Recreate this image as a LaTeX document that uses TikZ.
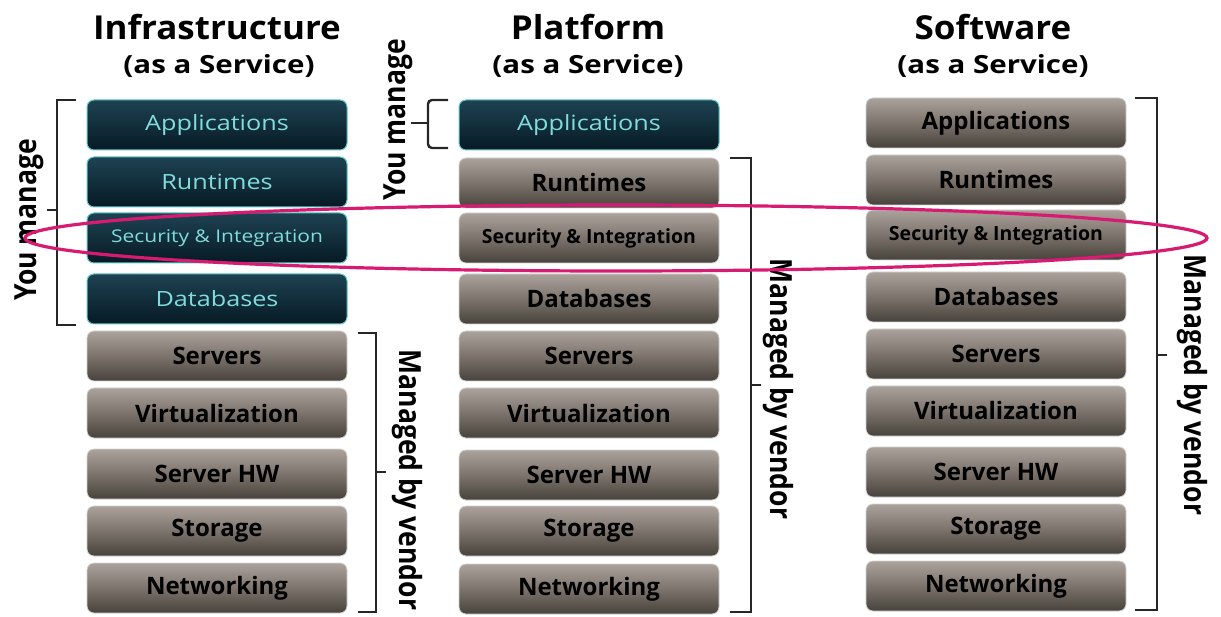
\documentclass[tikz,border=0pt]{standalone}
\usepackage{fontspec}
\setmainfont{Open Sans}
\definecolor{gtop}{HTML}{ABA39B}
\definecolor{gmid}{HTML}{7C746C}
\definecolor{gbot}{HTML}{48423C}
\definecolor{dtop}{HTML}{1E4252}
\definecolor{dbot}{HTML}{061A24}
\definecolor{dedge}{HTML}{5FC8C8}
\definecolor{dtext}{HTML}{80DCDC}
\definecolor{loopcol}{HTML}{D81B72}
\newcommand{\tall}[1]{\scalebox{1}[1.15]{#1}}
\newcommand{\xs}[2]{\scalebox{#1}[1]{#2}}
\begin{document}
\begin{tikzpicture}[x=1pt,y=-1pt,
  layer/.style={rectangle,rounded corners=7pt,minimum width=260pt,minimum height=50pt,inner sep=0pt},
  gbox/.style={layer,top color=gtop,bottom color=gbot,middle color=gmid,draw=gray!35,line width=0.8pt,text=black,font=\bfseries\fontsize{24}{24}\selectfont},
  gsmall/.style={gbox,font=\bfseries\fontsize{19.5}{19.5}\selectfont},
  dbox/.style={layer,top color=dtop,bottom color=dbot,draw=dedge,line width=1pt,text=dtext,font=\fontsize{21}{21}\selectfont},
  dsmall/.style={dbox,font=\fontsize{17.5}{17.5}\selectfont},
  title/.style={font=\bfseries\fontsize{33}{33}\selectfont},
  subtitle/.style={font=\bfseries\fontsize{25}{25}\selectfont},
  brk/.style={draw=black!85,line width=2.4pt},
  side/.style={font=\bfseries\fontsize{26.5}{26.5}\selectfont}]
\useasboundingbox (0,0) rectangle (1221,617);

% titles
\node[title] (t1) at (217,27) {\xs{1.06}{Infrastructure}};
\node[subtitle] (s1) at (219,66) {\xs{1.18}{(as a Service)}};
\node[title] (t2) at (588,27) {\xs{1.06}{Platform}};
\node[subtitle] (s2) at (588,66) {\xs{1.18}{(as a Service)}};
\node[title] (t3) at (993,27) {\xs{1.06}{Software}};
\node[subtitle] (s3) at (993,66) {\xs{1.18}{(as a Service)}};

% column 1 (IaaS)
\node[dbox]   (a1) at (217,125) {\xs{1.2}{Applications}};
\node[dbox]   (b1) at (217,182) {\xs{1.2}{Runtimes}};
\node[dsmall] (c1) at (217,238) {\xs{1.2}{Security \& Integration}};
\node[dbox]   (d1) at (217,299) {\xs{1.2}{Databases}};
\node[gbox]   (e1) at (217,356) {Servers};
\node[gbox]   (f1) at (217,413) {Virtualization};
\node[gbox]   (g1) at (217,474) {Server HW};
\node[gbox]   (h1) at (217,531) {Storage};
\node[gbox]   (i1) at (217,588) {Networking};

% column 2 (PaaS)
\node[dbox]   (a2) at (589,125) {\xs{1.2}{Applications}};
\node[gbox]   (b2) at (589,183) {Runtimes};
\node[gsmall] (c2) at (589,238) {Security \& Integration};
\node[gbox]   (d2) at (589,299) {Databases};
\node[gbox]   (e2) at (589,356) {Servers};
\node[gbox]   (f2) at (589,413) {Virtualization};
\node[gbox]   (g2) at (589,475) {Server HW};
\node[gbox]   (h2) at (589,531) {Storage};
\node[gbox]   (i2) at (589,589) {Networking};

% column 3 (SaaS)
\node[gbox]   (a3) at (996,123) {Applications};
\node[gbox]   (b3) at (996,180) {Runtimes};
\node[gsmall] (c3) at (996,235) {Security \& Integration};
\node[gbox]   (d3) at (996,297) {Databases};
\node[gbox]   (e3) at (996,354) {Servers};
\node[gbox]   (f3) at (996,411) {Virtualization};
\node[gbox]   (g3) at (996,472) {Server HW};
\node[gbox]   (h3) at (996,529) {Storage};
\node[gbox]   (i3) at (996,586) {Networking};

% brackets column 1
\draw[brk] (76,100) -- (57,100) -- (57,325) -- (76,325);
\draw[brk] (57,210) -- (47,210);
\node[side,rotate=90] (ym1) at (29,220) {\tall{You manage}};
\draw[brk] (358,333) -- (376,333) -- (376,612) -- (358,612);
\draw[brk] (376,472) -- (386,472);
\node[side,rotate=-90] (mv1) at (407,480) {\tall{Managed by vendor}};

% brackets column 2
\draw[brk,rounded corners=4pt] (448,100) -- (428,100) -- (428,123);
\draw[brk,rounded corners=4pt] (428,123) -- (428,148) -- (448,148);
\draw[brk] (428,123) -- (411,123);
\node[side,rotate=90] (ym2) at (398,120) {\tall{You manage}};
\draw[brk] (730,158) -- (751,158) -- (751,612) -- (730,612);
\draw[brk] (751,385) -- (761,385);
\node[side,rotate=-90] (mv2) at (778,389) {\tall{Managed by vendor}};

% brackets column 3
\draw[brk] (1135,98) -- (1157,98) -- (1157,610) -- (1135,610);
\draw[brk] (1157,355) -- (1167,355);
\node[side,rotate=-90] (mv3) at (1192,385) {\tall{Managed by vendor}};

% highlight loop around Security & Integration
\draw[draw=loopcol,line width=3.2pt] (616,238) ellipse [x radius=591, y radius=33];
\end{tikzpicture}
\end{document}
